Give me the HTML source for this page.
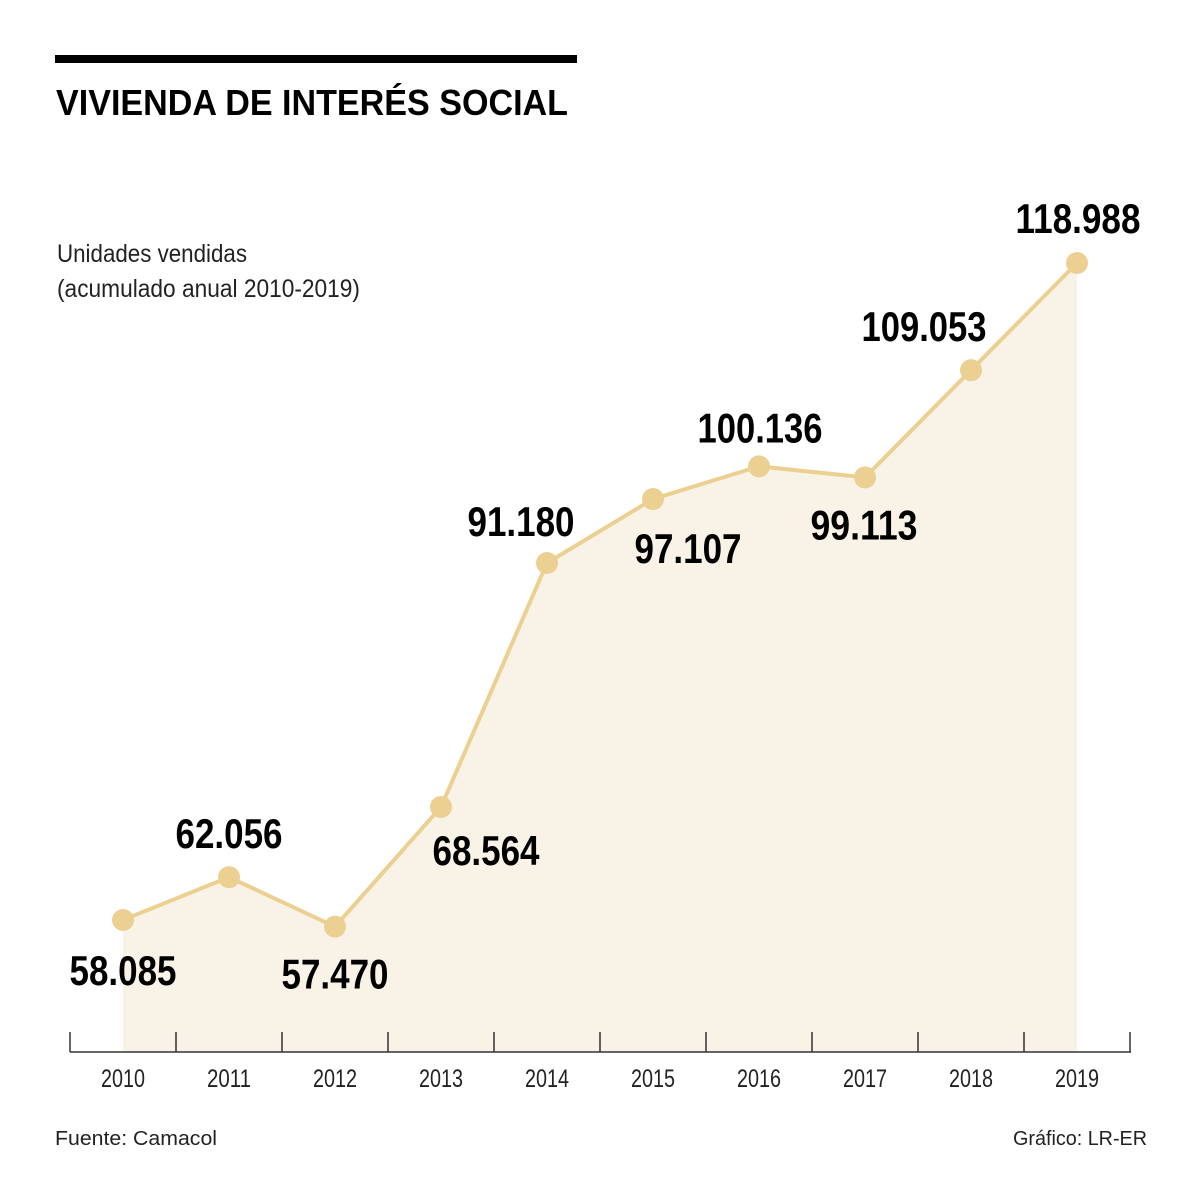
<!DOCTYPE html>
<html><head><meta charset="utf-8"><style>
html,body{margin:0;padding:0;background:#fff;}
svg{display:block;font-family:"Liberation Sans",sans-serif;}
</style></head><body>
<svg id="chart" width="1200" height="1204" viewBox="0 0 1200 1204" xmlns="http://www.w3.org/2000/svg">
<rect x="55" y="55" width="522" height="8" fill="#000"/>
<text x="56" y="115" font-size="36" font-weight="bold" textLength="512" lengthAdjust="spacingAndGlyphs">VIVIENDA DE INTERÉS SOCIAL</text>
<text x="57" y="262" font-size="25" fill="#222" textLength="190" lengthAdjust="spacingAndGlyphs">Unidades vendidas</text>
<text x="57" y="297" font-size="25" fill="#222" textLength="303" lengthAdjust="spacingAndGlyphs">(acumulado anual 2010-2019)</text>
<g id="plot"></g>
<text x="55" y="1145" font-size="20" fill="#222" textLength="162" lengthAdjust="spacingAndGlyphs">Fuente: Camacol</text>
<text x="1147" y="1145" font-size="20" fill="#222" text-anchor="end" textLength="134" lengthAdjust="spacingAndGlyphs">Gráfico: LR-ER</text>
</svg>
<script>
const years = ["2010","2011","2012","2013","2014","2015","2016","2017","2018","2019"];
const values = [58085,62056,57470,68564,91180,97107,100136,99113,109053,118988];
const valueLabels = ["58.085","62.056","57.470","68.564","91.180","97.107","100.136","99.113","109.053","118.988"];

const NS="http://www.w3.org/2000/svg";
const g=document.getElementById('plot');
const place=[[0,65],[0,-29],[0,62],[45,58],[-26,-27],[35,64],[1,-24],[-1,62],[-47,-29],[1,-30]];
function x(i){return 123+106*i;}
function y(v){return 920-(v-58085)*(657/60903);}
const baseY=1052;
function el(t,a){const e=document.createElementNS(NS,t);for(const k in a)e.setAttribute(k,a[k]);g.appendChild(e);return e;}
let d='M'+x(0)+','+baseY;
values.forEach((v,i)=>{d+=' L'+x(i)+','+y(v);});
d+=' L'+x(values.length-1)+','+baseY+' Z';
const area=el('path',{d:d,fill:'#f9f2e6'});


const line=el('polyline',{points:values.map((v,i)=>x(i)+','+y(v)).join(' '),fill:'none',stroke:'#ebd092','stroke-width':4,'stroke-linejoin':'round'});


const ax=el('line',{x1:70,x2:1131,y1:baseY,y2:baseY,stroke:'#333','stroke-width':1.5});


for(let i=0;i<=years.length;i++){
  const t=el('line',{x1:70+106*i,x2:70+106*i,y1:1032,y2:baseY,stroke:'#333','stroke-width':1.5});
  
  
}
years.forEach((yr,i)=>{
  const t=el('text',{x:x(i),y:1087,'font-size':25,'text-anchor':'middle',fill:'#222',textLength:44,lengthAdjust:'spacingAndGlyphs'});
  t.textContent=yr;
  
  
});
values.forEach((v,i)=>{
  const c=el('circle',{cx:x(i),cy:y(v),r:11,fill:'#ebd092'});
  
  
  const lbl=valueLabels[i];
  const t=el('text',{x:x(i)+place[i][0],y:y(v)+place[i][1],'font-size':42,'font-weight':'bold','text-anchor':'middle',fill:'#000',textLength:lbl.length>6?125:107,lengthAdjust:'spacingAndGlyphs'});
  t.textContent=lbl;
  
  
});
</script>
</body></html>
